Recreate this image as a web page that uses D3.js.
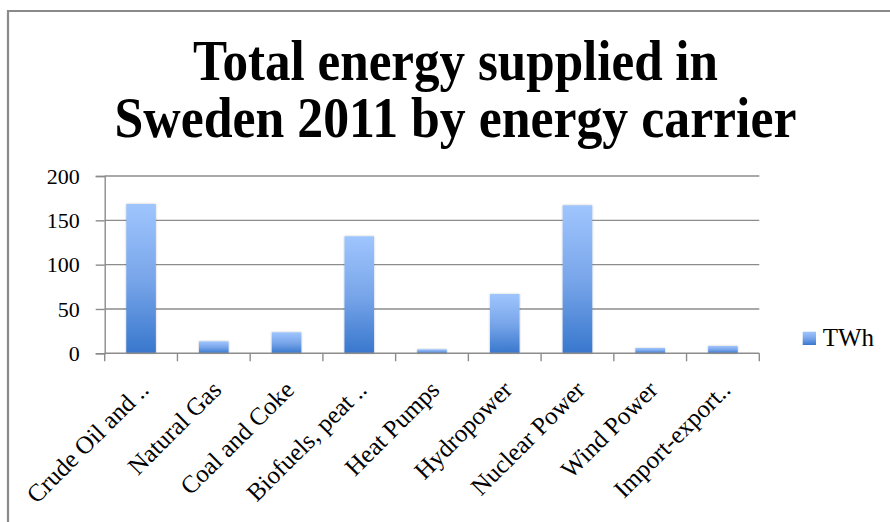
<!DOCTYPE html>
<html>
<head>
<meta charset="utf-8">
<script src="https://cdn.jsdelivr.net/npm/d3@7/dist/d3.min.js"></script>
<style>
  html, body { margin: 0; padding: 0; background: #fff; }
  svg { display: block; }
</style>
</head>
<body>
<svg id="chart" width="890" height="522"></svg>
<script>
// Energy carriers and supplied energy (TWh), Sweden 2011
const categories = [
  "Crude Oil and ..", "Natural Gas", "Coal and Coke", "Biofuels, peat ..",
  "Heat Pumps", "Hydropower", "Nuclear Power", "Wind Power", "Import-export.."
];
const twh = [168.4, 13.5, 23.7, 132, 4.5, 66.9, 167, 6, 8.2];
const yTicks = [0, 50, 100, 150, 200];
const seriesName = "TWh";
const titleLines = ["Total energy supplied in", "Sweden 2011 by energy carrier"];

const svg = d3.select("#chart");
const serif = "'Liberation Serif', 'DejaVu Serif', serif";

// outer chart frame (continues past the right and bottom edges)
svg.append("path")
  .attr("d", "M8,530 V11 H900")
  .attr("fill", "none")
  .attr("stroke", "#8a8a8a")
  .attr("stroke-width", 2.2);

const plot = { left: 104.7, right: 759.3, top: 176, bottom: 353.3 };

const x = d3.scaleBand()
  .domain(categories)
  .range([plot.left, plot.right])
  .paddingInner(0.593)
  .paddingOuter(0.2965);

const y = d3.scaleLinear()
  .domain([0, 200])
  .range([plot.bottom, plot.top]);

// gradient fill for bars
const defs = svg.append("defs");
const grad = defs.append("linearGradient")
  .attr("id", "barGrad")
  .attr("x1", 0).attr("y1", 0).attr("x2", 0).attr("y2", 1);
grad.append("stop").attr("offset", "0%").attr("stop-color", "#9fc5fd");
grad.append("stop").attr("offset", "50%").attr("stop-color", "#79a6ea");
grad.append("stop").attr("offset", "100%").attr("stop-color", "#3877cd");

const shadow = defs.append("filter").attr("id", "barShadow")
  .attr("x", "-30%").attr("y", "-30%").attr("width", "160%").attr("height", "160%");
shadow.append("feGaussianBlur").attr("in", "SourceAlpha").attr("stdDeviation", 1.2).attr("result", "b");
shadow.append("feComponentTransfer").attr("in", "b").attr("result", "s")
  .append("feFuncA").attr("type", "linear").attr("slope", 0.25);
const merge = shadow.append("feMerge");
merge.append("feMergeNode").attr("in", "s");
merge.append("feMergeNode").attr("in", "SourceGraphic");

// gridlines
svg.append("g")
  .selectAll("line")
  .data(yTicks.filter(d => d > 0))
  .join("line")
  .attr("x1", plot.left).attr("x2", plot.right)
  .attr("y1", d => y(d)).attr("y2", d => y(d))
  .attr("stroke", "#8c8c8c")
  .attr("stroke-width", 1.4);

// y axis
const yAxis = svg.append("g")
  .attr("transform", `translate(${plot.left},0)`)
  .call(d3.axisLeft(y).tickValues(yTicks).tickSize(9).tickPadding(16).tickFormat(d3.format("d")));
yAxis.select(".domain").attr("stroke", "#8c8c8c").attr("stroke-width", 1.4);
yAxis.selectAll(".tick line").attr("stroke", "#8c8c8c").attr("stroke-width", 1.4);
yAxis.selectAll("text")
  .attr("font-family", serif)
  .attr("font-size", 22)
  .attr("fill", "#000");

// bars
svg.append("g")
  .selectAll("rect")
  .data(categories.map((c, i) => ({ c, v: twh[i] })))
  .join("rect")
  .attr("x", d => x(d.c))
  .attr("width", x.bandwidth())
  .attr("y", d => y(d.v))
  .attr("height", d => y(0) - y(d.v))
  .attr("fill", "url(#barGrad)")
  .attr("filter", "url(#barShadow)");

// x axis: category boundaries as ticks
const step = x.step();
const xAxis = svg.append("g");
xAxis.append("line")
  .attr("x1", plot.left).attr("x2", plot.right)
  .attr("y1", y(0)).attr("y2", y(0))
  .attr("stroke", "#8c8c8c").attr("stroke-width", 1.4);
xAxis.selectAll("line.tk")
  .data(d3.range(categories.length + 1))
  .join("line")
  .attr("class", "tk")
  .attr("x1", i => plot.left + i * step)
  .attr("x2", i => plot.left + i * step)
  .attr("y1", y(0)).attr("y2", y(0) + 8)
  .attr("stroke", "#8c8c8c").attr("stroke-width", 1.4);

xAxis.selectAll("text")
  .data(categories)
  .join("text")
  .attr("transform", d => `translate(${x(d) + x.bandwidth() / 2 + 9},${y(0) + 38}) rotate(-45)`)
  .attr("text-anchor", "end")
  .attr("font-family", serif)
  .attr("font-size", 25)
  .attr("fill", "#000")
  .text(d => d);

// legend
const legend = svg.append("g").attr("transform", "translate(802.7,331.7)");
legend.append("rect")
  .attr("width", 13.3).attr("height", 13.3)
  .attr("fill", "url(#barGrad)");
legend.append("text")
  .attr("x", 20).attr("y", 13.8)
  .attr("font-family", serif)
  .attr("font-size", 25)
  .attr("fill", "#000")
  .text(seriesName);

// title, two centred lines compressed horizontally to their widths
const titleWidths = [525, 682];
svg.append("g")
  .selectAll("text")
  .data(titleLines)
  .join("text")
  .attr("x", 455.5)
  .attr("y", (d, i) => 80 + i * 57)
  .attr("text-anchor", "middle")
  .attr("font-family", serif)
  .attr("font-weight", "bold")
  .attr("font-size", 56)
  .attr("fill", "#000")
  .attr("textLength", (d, i) => titleWidths[i])
  .attr("lengthAdjust", "spacingAndGlyphs")
  .text(d => d);
</script>
</body>
</html>
